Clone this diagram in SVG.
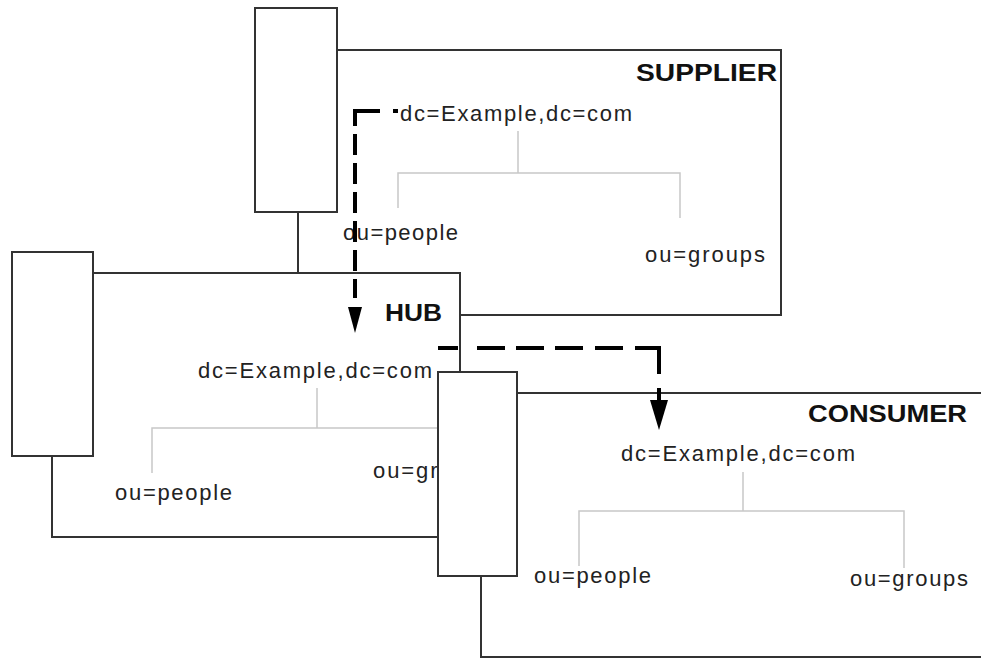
<svg xmlns="http://www.w3.org/2000/svg" width="981" height="659" viewBox="0 0 981 659">
  <style>
    .frame { fill: none; stroke: #333; stroke-width: 2; }
    .box { fill: #fff; stroke: #333; stroke-width: 2; }
    .tree { fill: none; stroke: #c8c8c8; stroke-width: 1.5; }
    .dn { font-family: "Liberation Sans", Arial, sans-serif; font-size: 22px; fill: #222; }
    .title { font-family: "Liberation Sans", Arial, sans-serif; font-size: 24px; font-weight: bold; fill: #111; }
    .flow { fill: none; stroke: #000; stroke-width: 4; }
    .head { fill: #000; }
  </style>
  <rect width="981" height="659" fill="#fff"/>

  <!-- Supplier server and its directory tree -->
  <g id="supplier">
    <path class="frame" d="M337,50 H781 V315 H460"/>
    <path class="frame" d="M298,212 V273"/>
    <rect class="box" x="255" y="8" width="82" height="204"/>
    <text class="title" x="636" y="81" textLength="141" lengthAdjust="spacingAndGlyphs">SUPPLIER</text>
    <text class="dn" x="400" y="121" textLength="232" lengthAdjust="spacing">dc=Example,dc=com</text>
    <path class="tree" d="M518,131 V173 M398,208 V173 H680 V218"/>
    <text class="dn" x="343" y="240" textLength="115" lengthAdjust="spacing">ou=people</text>
    <text class="dn" x="645" y="262" textLength="120" lengthAdjust="spacing">ou=groups</text>
  </g>

  <!-- Hub server and its directory tree -->
  <g id="hub">
    <path class="frame" d="M93,273 H460 V372"/>
    <path class="frame" d="M52,456 V537 H438"/>
    <rect class="box" x="12" y="252" width="81" height="204"/>
    <text class="title" x="385" y="321" textLength="57" lengthAdjust="spacingAndGlyphs">HUB</text>
    <text class="dn" x="198" y="378" textLength="234" lengthAdjust="spacing">dc=Example,dc=com</text>
    <path class="tree" d="M317,388 V428 M152,473 V428 H450"/>
    <text class="dn" x="115" y="500" textLength="117" lengthAdjust="spacing">ou=people</text>
    <text class="dn" x="373" y="478" textLength="120" lengthAdjust="spacing">ou=groups</text>
  </g>

  <!-- Consumer server and its directory tree -->
  <g id="consumer">
    <path class="frame" d="M517,393 H981"/>
    <path class="frame" d="M481,576 V657 H981"/>
    <rect class="box" x="438" y="372" width="79" height="204"/>
    <text class="title" x="808" y="422" textLength="159" lengthAdjust="spacingAndGlyphs">CONSUMER</text>
    <text class="dn" x="621" y="461" textLength="234" lengthAdjust="spacing">dc=Example,dc=com</text>
    <path class="tree" d="M743,472 V511 M579,566 V511 H904 V568"/>
    <text class="dn" x="534" y="583" textLength="117" lengthAdjust="spacing">ou=people</text>
    <text class="dn" x="850" y="586" textLength="118" lengthAdjust="spacing">ou=groups</text>
  </g>

  <!-- Replication flows -->
  <g id="connectors">
    <path class="flow" stroke-width="3" stroke-dasharray="5 13 40 8 21 8 21 8 21 8 21 8 21 8 21 8 21 8" d="M398,111 H355 V298"/>
    <path class="head" d="M348,307 L362,307 L355,333 Z"/>
    <path class="flow" stroke-dasharray="20 19 28 11 28 11 28 12 28 12 50 14" d="M438,348 H659 V376"/>
    <path class="flow" stroke-width="3" d="M659,388 V404"/>
    <path class="head" d="M650,400 L668,400 L659,430 Z"/>
  </g>
</svg>
